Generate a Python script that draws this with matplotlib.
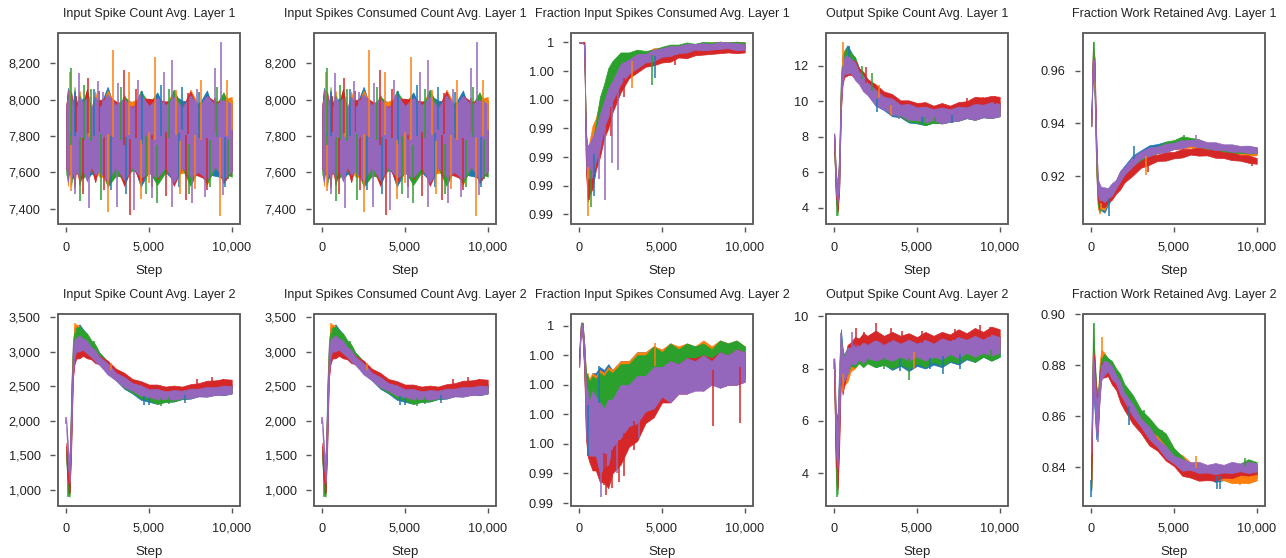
import matplotlib.pyplot as plt
import numpy as np
from matplotlib.patches import Rectangle
from matplotlib.ticker import FuncFormatter

plt.rcParams['font.family'] = ['Liberation Sans', 'DejaVu Sans']

STEPS = [0, 100, 200, 300, 400, 500, 600, 800, 1000, 1250, 1500, 1750, 2000, 2500,
         3000, 3500, 4000, 4500, 5000, 5500, 6000, 6500, 7000, 7500, 8000, 8500,
         9000, 9500, 10000]
COLORS = ['#1f77b4', '#ff7f0e', '#2ca02c', '#d62728', '#9467bd']

# Each series is the centre of the noisy trace at STEPS; *_spread is the half width
# of the noise band; *_spikes are single samples (run, step, value) sticking out.

# Input spike count avg., layer 1 (consumed count is the same within the plot's resolution)
in_l1 = [
    [7790, 7830, 7760, 7810, 7750, 7800, 7830, 7770, 7820, 7790, 7750, 7810, 7780, 7830, 7760,
     7790, 7820, 7750, 7790, 7820, 7770, 7790, 7830, 7760, 7790, 7820, 7750, 7790, 7810],
    [7810, 7760, 7830, 7780, 7820, 7750, 7790, 7830, 7760, 7820, 7780, 7830, 7750, 7810, 7790,
     7760, 7830, 7780, 7820, 7760, 7790, 7820, 7760, 7830, 7790, 7760, 7820, 7780, 7830],
    [7760, 7790, 7820, 7750, 7790, 7830, 7760, 7800, 7750, 7820, 7770, 7790, 7820, 7760, 7750,
     7800, 7770, 7820, 7790, 7750, 7770, 7820, 7790, 7750, 7800, 7770, 7790, 7820, 7760],
    [7790, 7820, 7750, 7820, 7780, 7760, 7820, 7750, 7790, 7830, 7790, 7760, 7820, 7780, 7820,
     7750, 7800, 7770, 7820, 7780, 7820, 7760, 7790, 7820, 7760, 7790, 7820, 7760, 7790],
    [7800, 7780, 7800, 7790, 7780, 7800, 7780, 7790, 7800, 7780, 7790, 7800, 7780, 7790, 7800,
     7780, 7790, 7800, 7780, 7790, 7800, 7780, 7790, 7800, 7780, 7790, 7800, 7780, 7790],
]
in_l1_spread = [170, 235, 160, 225, 180, 240, 165, 220, 185, 230, 160, 215, 175, 240, 170,
                225, 160, 230, 185, 220, 170, 235, 165, 225, 180, 230, 170, 220, 185]
in_l1_spikes = [
    (4, 160, 8053), (2, 300, 8176), (1, 220, 8154), (4, 770, 8145), (3, 1320, 8117),
    (4, 1890, 8100), (1, 2840, 8273), (4, 3100, 8090), (3, 3510, 8163), (1, 3810, 8154),
    (4, 4320, 8108), (1, 5375, 8237), (4, 5880, 8154), (4, 6410, 8218), (1, 6610, 8053),
    (3, 7360, 8035), (1, 8170, 8108), (4, 8990, 8172), (4, 9330, 8319), (1, 9700, 8108),
    (1, 10000, 8000), (0, 4600, 8050), (2, 1100, 8080), (3, 600, 8020), (3, 9000, 8010),
    (0, 1700, 8060), (1, 260, 7494), (2, 830, 7439), (4, 1380, 7402), (2, 2090, 7448),
    (1, 2540, 7383), (4, 3060, 7411), (3, 3850, 7365), (4, 4120, 7393), (2, 5500, 7429),
    (4, 6390, 7407), (3, 7220, 7448), (4, 7570, 7429), (1, 9290, 7360), (4, 9490, 7475),
    (4, 8380, 7466), (0, 6800, 7520), (3, 2300, 7500), (2, 8700, 7520), (1, 5000, 7540),
    (2, 9800, 7560), (0, 500, 8040), (2, 1500, 8060), (3, 2000, 8050), (0, 2700, 7500),
    (2, 3300, 8070), (0, 3600, 7480), (3, 4200, 8060), (2, 4800, 7480), (3, 5200, 7520),
    (0, 5700, 8080), (3, 6000, 7470), (2, 6200, 8060), (0, 7000, 8070), (2, 7400, 7480),
    (1, 7800, 7510), (0, 8000, 8040), (3, 8500, 7500), (2, 9100, 8070), (0, 9600, 7520),
    (1, 1400, 8010), (1, 4500, 7450), (1, 6900, 7480), (3, 1000, 7480), (4, 2200, 8040),
    (4, 5200, 7460), (4, 7900, 8060), (4, 500, 7480),
]

# Fraction input spikes consumed avg., layer 1
frac_l1 = [
    [1.0, 1.0, 1.0, 1.0, 0.9928, 0.9910, 0.9912, 0.9916, 0.9928, 0.9944, 0.9956, 0.9964, 0.9974,
     0.9982, 0.9986, 0.9988, 0.9990, 0.9990, 0.9993, 0.9994, 0.9995, 0.9996, 0.9997, 0.9997,
     0.9997, 0.9998, 0.9998, 0.9998, 0.9998],
    [1.0, 1.0, 1.0, 1.0, 0.9930, 0.9908, 0.9918, 0.9928, 0.9936, 0.9948, 0.9958, 0.9966, 0.9975,
     0.9983, 0.9986, 0.9989, 0.9990, 0.9992, 0.9993, 0.9994, 0.9995, 0.9996, 0.9997, 0.9997,
     0.9998, 0.9998, 0.9998, 0.9998, 0.9998],
    [1.0, 1.0, 1.0, 1.0, 0.9925, 0.9906, 0.9906, 0.9916, 0.9933, 0.9950, 0.9962, 0.9972, 0.9980,
     0.9986, 0.9988, 0.9990, 0.9991, 0.9991, 0.9994, 0.9995, 0.9996, 0.9997, 0.9997, 0.9998,
     0.9998, 0.9998, 0.9998, 0.9998, 0.9998],
    [1.0, 1.0, 1.0, 1.0, 0.9922, 0.9902, 0.9905, 0.9912, 0.9922, 0.9932, 0.9942, 0.9950, 0.9958,
     0.9972, 0.9980, 0.9984, 0.9986, 0.9988, 0.9989, 0.9990, 0.9992, 0.9992, 0.9993, 0.9994,
     0.9994, 0.9995, 0.9995, 0.9995, 0.9995],
    [1.0, 1.0, 1.0, 0.9998, 0.9926, 0.9915, 0.9917, 0.9920, 0.9928, 0.9938, 0.9950, 0.9958, 0.9966,
     0.9978, 0.9983, 0.9987, 0.9989, 0.9991, 0.9993, 0.9994, 0.9995, 0.9996, 0.9997, 0.9997,
     0.9997, 0.9998, 0.9998, 0.9997, 0.9997],
]
frac_l1_spread = [0, 0, 0, 0, 0.0010, 0.0013, 0.0012, 0.0014, 0.0011, 0.0012, 0.0009, 0.0010,
                  0.0007, 0.0007, 0.0005, 0.0005, 0.0003, 0.0004, 0.0003, 0.00035, 0.00025,
                  0.0003, 0.0002, 0.00025, 0.0002, 0.00025, 0.0002, 0.00025, 0.0002]
frac_l1_spikes = [
    (1, 550, 0.9879), (2, 700, 0.9885), (3, 600, 0.9890), (0, 900, 0.9893), (4, 1550, 0.9890),
    (4, 2000, 0.9916), (4, 2350, 0.9911), (3, 1900, 0.9935), (1, 3200, 0.9968),
    (0, 4550, 0.9975), (2, 4400, 0.9970), (3, 5800, 0.9984), (3, 2700, 0.9962),
    (4, 1200, 0.9905),
]

# Output spike count avg., layer 1
out_l1 = [
    [7.6, 5.3, 4.6, 6.4, 10.8, 12.1, 12.4, 12.6, 12.4, 11.9, 11.5, 11.1, 10.8, 10.2, 9.85, 9.6,
     9.4, 9.25, 9.1, 9.1, 9.1, 9.2, 9.2, 9.3, 9.35, 9.4, 9.45, 9.5, 9.5],
    [7.7, 5.2, 4.4, 6.2, 10.6, 12.0, 12.4, 12.4, 12.2, 11.8, 11.4, 11.1, 10.8, 10.3, 10.0, 9.7,
     9.5, 9.4, 9.3, 9.3, 9.25, 9.3, 9.3, 9.4, 9.45, 9.5, 9.55, 9.55, 9.6],
    [7.5, 5.0, 4.1, 6.0, 10.4, 11.8, 12.3, 12.5, 12.3, 12.0, 11.5, 11.2, 10.9, 10.4, 10.0, 9.7,
     9.45, 9.3, 9.15, 9.1, 9.1, 9.2, 9.2, 9.3, 9.35, 9.4, 9.45, 9.5, 9.55],
    [7.6, 5.0, 4.3, 5.8, 10.0, 11.4, 11.8, 12.0, 11.9, 11.8, 11.5, 11.2, 10.9, 10.5, 10.2, 9.95,
     9.75, 9.6, 9.55, 9.5, 9.45, 9.45, 9.4, 9.55, 9.7, 9.8, 9.85, 9.85, 9.9],
    [7.8, 5.4, 4.8, 6.0, 10.2, 11.6, 12.0, 12.1, 12.0, 11.7, 11.3, 11.0, 10.7, 10.2, 9.9, 9.7,
     9.5, 9.4, 9.3, 9.25, 9.25, 9.2, 9.2, 9.3, 9.35, 9.4, 9.45, 9.5, 9.5],
]
out_l1_spread = [0.4, 0.6, 0.5, 0.8, 0.6, 0.5, 0.45, 0.55, 0.4, 0.5, 0.35, 0.45, 0.35, 0.45,
                 0.35, 0.45, 0.3, 0.45, 0.35, 0.45, 0.3, 0.45, 0.35, 0.4, 0.3, 0.45, 0.35, 0.45,
                 0.35]
out_l1_spikes = [
    (1, 500, 13.35), (0, 900, 13.1), (2, 160, 3.55), (3, 1900, 11.9), (2, 2300, 11.6),
    (0, 5300, 8.7), (2, 6100, 8.7), (0, 7100, 8.8), (3, 9700, 10.3), (1, 3400, 9.2),
    (0, 2600, 9.4), (2, 5400, 8.65), (3, 8000, 10.2), (3, 9000, 10.25), (1, 2700, 10.9),
    (2, 1700, 12.0), (4, 3900, 9.0), (4, 6600, 8.75),
]

# Fraction work retained avg., layer 1
work_l1 = [
    [0.940, 0.963, 0.952, 0.925, 0.911, 0.910, 0.9095, 0.909, 0.911, 0.914, 0.917, 0.920, 0.9225,
     0.926, 0.9285, 0.930, 0.931, 0.9315, 0.932, 0.9325, 0.9325, 0.932, 0.9315, 0.931, 0.9305,
     0.930, 0.930, 0.9298, 0.9295],
    [0.940, 0.964, 0.955, 0.926, 0.911, 0.909, 0.910, 0.910, 0.912, 0.914, 0.9165, 0.9195,
     0.9215, 0.924, 0.926, 0.9285, 0.930, 0.9308, 0.9315, 0.932, 0.932, 0.9315, 0.931, 0.9305,
     0.930, 0.9298, 0.9295, 0.9292, 0.929],
    [0.941, 0.968, 0.960, 0.928, 0.912, 0.910, 0.911, 0.911, 0.9125, 0.914, 0.9165, 0.919, 0.921,
     0.9245, 0.927, 0.929, 0.930, 0.9315, 0.9325, 0.9335, 0.9335, 0.9325, 0.9315, 0.931, 0.9305,
     0.930, 0.930, 0.930, 0.9298],
    [0.940, 0.966, 0.962, 0.932, 0.914, 0.911, 0.911, 0.911, 0.912, 0.9135, 0.915, 0.917, 0.919,
     0.922, 0.9245, 0.926, 0.927, 0.9275, 0.928, 0.9287, 0.9293, 0.9293, 0.929, 0.9285, 0.928,
     0.9275, 0.927, 0.9265, 0.9258],
    [0.940, 0.965, 0.958, 0.930, 0.916, 0.914, 0.9135, 0.913, 0.9135, 0.915, 0.917, 0.920, 0.922,
     0.9255, 0.928, 0.9293, 0.930, 0.9307, 0.9315, 0.9322, 0.9327, 0.9325, 0.9318, 0.9314, 0.931,
     0.9307, 0.9304, 0.9302, 0.9299],
]
work_l1_spread = [0.0010, 0.0030, 0.0030, 0.0040, 0.0030, 0.0032, 0.0024, 0.0028, 0.0020,
                  0.0024, 0.0016, 0.0020, 0.0014, 0.0018, 0.0013, 0.0017, 0.0012, 0.0016,
                  0.0012, 0.0016, 0.0011, 0.0015, 0.0011, 0.0015, 0.0011, 0.0014, 0.0011,
                  0.0014, 0.0011]
work_l1_spikes = [(0, 1050, 0.9050), (1, 600, 0.9075), (2, 150, 0.9710), (1, 3300, 0.9205),
                  (0, 2600, 0.9315), (2, 5600, 0.9355), (4, 6300, 0.9355), (3, 9700, 0.9240),
                  (3, 3400, 0.9215)]

# Input spike count avg., layer 2 (consumed count is the same within the plot's resolution)
in_l2 = [
    [1550, 1250, 1200, 2200, 3000, 3200, 3250, 3280, 3250, 3160, 3070, 3000, 2920, 2770, 2640,
     2540, 2450, 2380, 2330, 2320, 2330, 2350, 2370, 2390, 2410, 2420, 2430, 2440, 2450],
    [1550, 1200, 1100, 2100, 2950, 3250, 3300, 3250, 3200, 3120, 3040, 2970, 2900, 2780, 2660,
     2560, 2480, 2430, 2400, 2390, 2380, 2390, 2400, 2410, 2430, 2440, 2450, 2460, 2470],
    [1500, 1100, 1050, 2000, 2900, 3200, 3250, 3250, 3230, 3170, 3100, 3020, 2930, 2780, 2650,
     2550, 2460, 2400, 2350, 2320, 2330, 2350, 2370, 2400, 2420, 2430, 2440, 2450, 2460],
    [1600, 1150, 1100, 1900, 2750, 2950, 3000, 3020, 3020, 3000, 2960, 2920, 2880, 2790, 2700,
     2620, 2550, 2500, 2470, 2450, 2440, 2440, 2440, 2460, 2490, 2510, 2530, 2535, 2540],
    [1950, 1500, 1250, 2000, 2800, 3050, 3100, 3120, 3110, 3070, 3000, 2940, 2870, 2750, 2640,
     2560, 2490, 2440, 2400, 2385, 2370, 2375, 2380, 2395, 2410, 2420, 2430, 2440, 2450],
]
in_l2_spread = [80, 150, 150, 300, 150, 130, 100, 115, 80, 95, 70, 85, 60, 80, 55, 75, 55, 75,
                55, 75, 55, 70, 55, 70, 55, 70, 55, 70, 55]
in_l2_spikes = [(1, 550, 3420), (2, 120, 900), (2, 1700, 3150), (0, 5000, 2230),
                (2, 5700, 2220), (3, 8800, 2630), (4, 0, 2050), (0, 4700, 2230),
                (2, 6200, 2240), (0, 7200, 2260), (3, 9500, 2610), (1, 2700, 2830),
                (3, 7900, 2600)]

# Fraction input spikes consumed avg., layer 2
frac_l2 = [
    [0.9990, 1.0, 0.9999, 0.9990, 0.9976, 0.9973, 0.9972, 0.9973, 0.9974, 0.9974, 0.9975,
     0.9976, 0.9977, 0.9979, 0.9981, 0.9983, 0.9985, 0.9986, 0.9986, 0.9987, 0.9987, 0.9987,
     0.9988, 0.9988, 0.9988, 0.9988, 0.9988, 0.9988, 0.9988],
    [0.9991, 1.0, 0.9999, 0.9990, 0.9976, 0.9974, 0.9973, 0.9973, 0.9973, 0.9973, 0.9974,
     0.9975, 0.9977, 0.9979, 0.9981, 0.9983, 0.9985, 0.9986, 0.9987, 0.9987, 0.9988, 0.9988,
     0.9988, 0.9989, 0.9989, 0.9989, 0.9989, 0.9989, 0.9988],
    [0.9991, 1.0, 0.9999, 0.9990, 0.9976, 0.9973, 0.9972, 0.9972, 0.9972, 0.9972, 0.9973,
     0.9974, 0.9976, 0.9978, 0.9980, 0.9982, 0.9984, 0.9986, 0.9986, 0.9987, 0.9987, 0.9988,
     0.9988, 0.9988, 0.9988, 0.9989, 0.9989, 0.9989, 0.9988],
    [0.9988, 1.0, 0.9998, 0.9988, 0.9970, 0.9966, 0.9963, 0.9962, 0.9961, 0.9959, 0.9957,
     0.9956, 0.9958, 0.9962, 0.9966, 0.9969, 0.9973, 0.9976, 0.9979, 0.9981, 0.9982, 0.9983,
     0.9984, 0.9984, 0.9985, 0.9985, 0.9985, 0.9986, 0.9986],
    [0.9987, 1.0, 0.9998, 0.9990, 0.9972, 0.9968, 0.9965, 0.9967, 0.9966, 0.9962, 0.9962,
     0.9964, 0.9967, 0.9971, 0.9973, 0.9975, 0.9977, 0.9979, 0.9981, 0.9981, 0.9982, 0.9983,
     0.9983, 0.9984, 0.9984, 0.9985, 0.9985, 0.9986, 0.9986],
]
frac_l2_spread = [0.0001, 0.0001, 0.0002, 0.0004, 0.0008, 0.0010, 0.0009, 0.0011, 0.0010,
                  0.0012, 0.0010, 0.0011, 0.0008, 0.0009, 0.0007, 0.0008, 0.0006, 0.0007,
                  0.0005, 0.0007, 0.0005, 0.0006, 0.0005, 0.0006, 0.0004, 0.0006, 0.0005,
                  0.0006, 0.0005]
frac_l2_spikes = [(4, 1300, 0.99421), (3, 1600, 0.99427), (4, 2300, 0.9950), (3, 2700, 0.9949),
                  (0, 1200, 0.99865), (4, 3600, 0.9962), (3, 8100, 0.9966), (3, 9700, 0.9967),
                  (0, 500, 0.9956), (1, 4600, 0.9994), (3, 1500, 0.9946), (3, 2000, 0.9945),
                  (3, 2400, 0.9947), (3, 3300, 0.9958)]

# Output spike count avg., layer 2
out_l2 = [
    [7.7, 5.3, 5.5, 7.2, 8.9, 8.2, 8.0, 8.2, 8.4, 8.5, 8.5, 8.5, 8.5, 8.45, 8.4, 8.35, 8.35,
     8.3, 8.35, 8.4, 8.4, 8.45, 8.5, 8.55, 8.6, 8.65, 8.7, 8.7, 8.75],
    [7.8, 5.0, 4.6, 7.0, 8.6, 7.8, 7.8, 8.0, 8.2, 8.4, 8.5, 8.55, 8.6, 8.65, 8.6, 8.6, 8.65,
     8.65, 8.65, 8.7, 8.7, 8.75, 8.8, 8.85, 8.9, 8.9, 8.9, 8.95, 8.95],
    [7.9, 4.5, 4.0, 6.5, 8.6, 8.0, 8.1, 8.3, 8.4, 8.45, 8.45, 8.45, 8.45, 8.45, 8.4, 8.4, 8.4,
     8.4, 8.45, 8.45, 8.5, 8.5, 8.55, 8.6, 8.65, 8.65, 8.7, 8.7, 8.75],
    [7.6, 4.8, 4.2, 6.0, 8.3, 7.6, 7.8, 8.4, 8.7, 8.8, 8.9, 8.95, 9.0, 9.05, 9.0, 9.0, 9.0, 8.95,
     8.95, 9.0, 9.0, 9.0, 9.05, 9.1, 9.1, 9.15, 9.15, 9.2, 9.2],
    [8.0, 5.5, 5.0, 6.8, 8.6, 8.0, 8.0, 8.3, 8.5, 8.55, 8.6, 8.6, 8.65, 8.7, 8.65, 8.7, 8.7, 8.7,
     8.7, 8.7, 8.7, 8.75, 8.8, 8.8, 8.85, 8.85, 8.85, 8.9, 8.9],
]
out_l2_spread = [0.4, 0.8, 0.8, 1.0, 0.6, 0.6, 0.45, 0.5, 0.3, 0.4, 0.25, 0.4, 0.25, 0.4, 0.25,
                 0.4, 0.25, 0.4, 0.25, 0.4, 0.25, 0.4, 0.25, 0.4, 0.25, 0.4, 0.25, 0.4, 0.3]
out_l2_spikes = [(3, 2500, 9.75), (3, 1300, 9.55), (3, 4100, 9.45), (0, 6600, 7.8),
                 (2, 4500, 7.55), (0, 4000, 7.9), (1, 500, 7.15), (2, 160, 3.1),
                 (4, 400, 9.35), (3, 8800, 9.65), (4, 0, 8.35), (0, 7600, 8.0), (2, 3000, 8.0),
                 (1, 4800, 8.0), (0, 5800, 8.0), (3, 5300, 9.45), (3, 7300, 9.5),
                 (3, 1800, 9.4), (4, 1100, 9.4), (3, 3400, 9.55), (3, 9400, 9.6),
                 (2, 9500, 8.35)]

# Fraction work retained avg., layer 2
work_l2 = [
    [0.835, 0.878, 0.868, 0.858, 0.859, 0.873, 0.880, 0.8815, 0.881, 0.878, 0.875, 0.8715,
     0.8675, 0.862, 0.8575, 0.854, 0.850, 0.8465, 0.843, 0.8405, 0.839, 0.838, 0.8375, 0.8365,
     0.8365, 0.837, 0.8375, 0.838, 0.8375],
    [0.836, 0.882, 0.875, 0.863, 0.861, 0.876, 0.883, 0.882, 0.8805, 0.878, 0.8755, 0.8725,
     0.869, 0.8635, 0.859, 0.855, 0.851, 0.847, 0.8445, 0.8425, 0.8405, 0.8395, 0.839, 0.8375,
     0.8365, 0.836, 0.8355, 0.836, 0.8365],
    [0.836, 0.890, 0.878, 0.865, 0.863, 0.873, 0.880, 0.8815, 0.881, 0.879, 0.877, 0.874, 0.871,
     0.866, 0.861, 0.857, 0.854, 0.851, 0.846, 0.842, 0.839, 0.8375, 0.837, 0.8375, 0.838, 0.839,
     0.840, 0.841, 0.8405],
    [0.838, 0.883, 0.876, 0.862, 0.860, 0.872, 0.878, 0.878, 0.8775, 0.875, 0.872, 0.868, 0.864,
     0.8595, 0.855, 0.851, 0.848, 0.845, 0.842, 0.839, 0.8375, 0.837, 0.8365, 0.837, 0.8375,
     0.838, 0.8385, 0.839, 0.839],
    [0.850, 0.880, 0.870, 0.860, 0.862, 0.870, 0.877, 0.879, 0.8795, 0.877, 0.8745, 0.871,
     0.8675, 0.8625, 0.8575, 0.8535, 0.8495, 0.846, 0.843, 0.841, 0.8405, 0.840, 0.8395, 0.8395,
     0.8395, 0.840, 0.840, 0.840, 0.840],
]
work_l2_spread = [0.004, 0.006, 0.006, 0.007, 0.006, 0.0045, 0.003, 0.0028, 0.0018, 0.0026,
                  0.0017, 0.0025, 0.0016, 0.0024, 0.0016, 0.0024, 0.0015, 0.0023, 0.0015,
                  0.0023, 0.0015, 0.0022, 0.0015, 0.0022, 0.0015, 0.0022, 0.0015, 0.0022,
                  0.0016]
work_l2_spikes = [(2, 150, 0.8965), (1, 620, 0.891), (0, 0, 0.8285), (4, 400, 0.850),
                  (2, 4600, 0.8510), (0, 7800, 0.8315), (2, 3200, 0.8625), (0, 2300, 0.8565),
                  (2, 4300, 0.8545), (1, 6300, 0.8445), (0, 7600, 0.8315), (2, 9300, 0.8435),
                  (1, 9000, 0.8330)]

TITLES = [
    ['Input Spike Count Avg. Layer 1', 'Input Spikes Consumed Count Avg. Layer 1',
     'Fraction Input Spikes Consumed Avg. Layer 1', 'Output Spike Count Avg. Layer 1',
     'Fraction Work Retained Avg. Layer 1'],
    ['Input Spike Count Avg. Layer 2', 'Input Spikes Consumed Count Avg. Layer 2',
     'Fraction Input Spikes Consumed Avg. Layer 2', 'Output Spike Count Avg. Layer 2',
     'Fraction Work Retained Avg. Layer 2'],
]
XTICKS = [0, 5000, 10000]
YTICKS = [
    [[7400, 7600, 7800, 8000, 8200], [7400, 7600, 7800, 8000, 8200],
     [0.988, 0.990, 0.992, 0.994, 0.996, 0.998, 1.0], [4, 6, 8, 10, 12], [0.92, 0.94, 0.96]],
    [[1000, 1500, 2000, 2500, 3000, 3500], [1000, 1500, 2000, 2500, 3000, 3500],
     [0.994, 0.995, 0.996, 0.997, 0.998, 0.999, 1.0], [4, 6, 8, 10], [0.84, 0.86, 0.88, 0.90]],
]


def fmt_comma(v, pos):
    return f"{v:,.0f}"


def fmt_frac(v, pos):
    return "1" if abs(v - 1) < 1e-9 else f"{v:.2f}"


def fmt_2(v, pos):
    return f"{v:.2f}"


YFMT = [[fmt_comma, fmt_comma, fmt_frac, fmt_comma, fmt_2],
        [fmt_comma, fmt_comma, fmt_frac, fmt_comma, fmt_2]]

DATA = [
    [(in_l1, in_l1_spread, in_l1_spikes), (in_l1, in_l1_spread, in_l1_spikes),
     (frac_l1, frac_l1_spread, frac_l1_spikes), (out_l1, out_l1_spread, out_l1_spikes),
     (work_l1, work_l1_spread, work_l1_spikes)],
    [(in_l2, in_l2_spread, in_l2_spikes), (in_l2, in_l2_spread, in_l2_spikes),
     (frac_l2, frac_l2_spread, frac_l2_spikes), (out_l2, out_l2_spread, out_l2_spikes),
     (work_l2, work_l2_spread, work_l2_spikes)],
]

W, H = 1286, 558
LEFTS = [58, 314, 571, 826, 1083]
TOPS = [33, 314]
AX_W, AX_H = 182, 191.5
FRAME = '#555555'

fig = plt.figure(figsize=(W / 100, H / 100), dpi=100)

for r in range(2):
    for c in range(5):
        ax = fig.add_axes([LEFTS[c] / W, 1 - (TOPS[r] + AX_H) / H, AX_W / W, AX_H / H])
        series, spread, spikes = DATA[r][c]
        w = np.array(spread)
        for k, col in enumerate(COLORS):
            mid = np.array(series[k])
            ax.fill_between(STEPS, mid - w, mid + w, color=col, lw=0.5)
            for s, st, v in spikes:
                if s == k:
                    ax.vlines(st, np.interp(st, STEPS, mid), v, color=col, lw=1.1)

        ax.set_xticks(XTICKS)
        ax.set_yticks(YTICKS[r][c])
        ax.xaxis.set_major_formatter(FuncFormatter(fmt_comma))
        ax.yaxis.set_major_formatter(FuncFormatter(YFMT[r][c]))
        ax.tick_params(direction='out', length=3.5, width=1, color=FRAME,
                       labelsize=9.2, labelcolor='#222222', pad=7)
        for side in ['top', 'right', 'left', 'bottom']:
            ax.spines[side].set_visible(False)
        ax.spines['left'].set_position(('outward', 2))
        ax.spines['bottom'].set_position(('outward', 2))
        ax.add_patch(Rectangle((0, 0), 1, 1, transform=ax.transAxes, fill=False,
                               ec=FRAME, lw=1.3, clip_on=False, zorder=10))
        ax.set_title(TITLES[r][c], fontsize=9, pad=11.5, color='#222222')
        ax.set_xlabel('Step', fontsize=9.5, labelpad=8, color='#222222')

fig.savefig('out.png', dpi=100, facecolor='white')
